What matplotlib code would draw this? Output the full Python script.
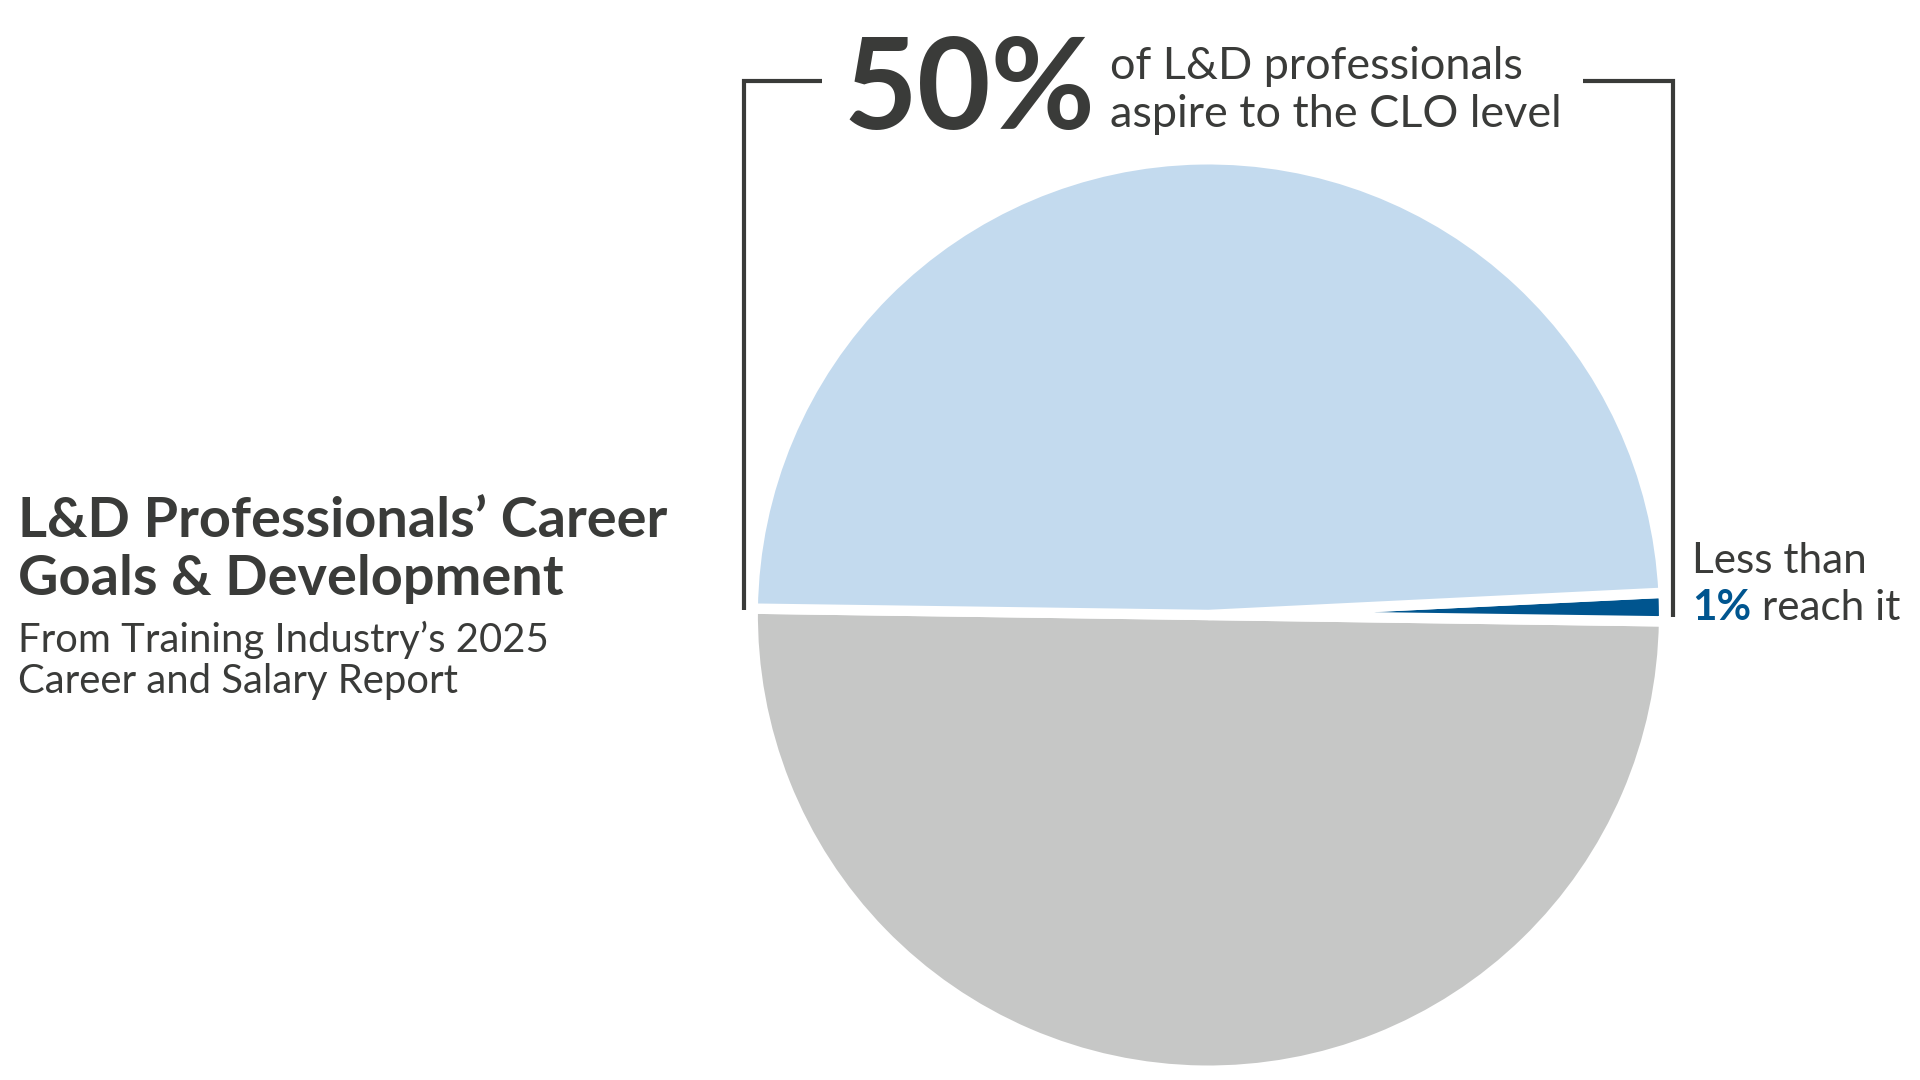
import matplotlib
matplotlib.use("Agg")
import matplotlib.pyplot as plt
from matplotlib.lines import Line2D

# ---------------- data ----------------
categories = ["Other L&D professionals", "Reach the CLO level", "Aspire to the CLO level"]
shares = [50.0, 1.0, 49.0]
slice_colors = ["#c6c7c6", "#00558f", "#c3daee"]

title_lines = ["L&D Professionals\u2019 Career", "Goals & Development"]
subtitle_lines = ["From Training Industry\u2019s 2025", "Career and Salary Report"]
big_value = "50%"
big_lines = ["of L&D professionals", "aspire to the CLO level"]
small_line1 = "Less than"
small_value = "1%"
small_rest = " reach it"

TEXT = "#3a3b39"
BLUE = "#00558f"
FAM = ["Lato", "DejaVu Sans"]

W, H = 1920, 1080
fig = plt.figure(figsize=(W / 100, H / 100), dpi=100)
fig.patch.set_facecolor("white")

# ---------------- pie ----------------
cx, cy, R = 1208.4, 615.0, 455.7
axp = fig.add_axes([(cx - R) / W, (H - cy - R) / H, 2 * R / W, 2 * R / H])
axp.pie(shares, colors=slice_colors, startangle=179.2, counterclock=True,
        wedgeprops=dict(edgecolor="white", linewidth=7.5))
axp.set_xlim(-1, 1)
axp.set_ylim(-1, 1)
axp.set_axis_off()

# ---------------- overlay for text & brackets ----------------
ax = fig.add_axes([0, 0, 1, 1])
ax.set_xlim(0, W)
ax.set_ylim(H, 0)
ax.set_axis_off()
ax.patch.set_alpha(0)

renderer = fig.canvas.get_renderer()


def width_of(t):
    return t.get_window_extent(renderer).width


def fit(t, target):
    t.set_fontsize(t.get_fontsize() * target / width_of(t))


# brackets
lw_br = 3.0
ax.add_line(Line2D([744, 744, 821.7], [610, 80.7, 80.7], color=TEXT, lw=lw_br,
                   solid_joinstyle="miter", solid_capstyle="butt"))
ax.add_line(Line2D([1583, 1672.5, 1672.5], [80.7, 80.7, 617], color=TEXT, lw=lw_br,
                   solid_joinstyle="miter", solid_capstyle="butt"))

# big 50%
t50 = ax.text(843, 129, big_value, family=FAM, weight="bold", color=TEXT,
              fontsize=80, va="baseline", ha="left")
fit(t50, 252)

b2 = ax.text(1110, 127, big_lines[1], family=FAM, color=TEXT, fontsize=28,
             va="baseline", ha="left")
fit(b2, 452)
b1 = ax.text(1110, 79, big_lines[0], family=FAM, color=TEXT,
             fontsize=b2.get_fontsize(), va="baseline", ha="left")

# right label
s1 = ax.text(1692, 573, small_line1, family=FAM, color=TEXT, fontsize=28,
             va="baseline", ha="left")
fit(s1, 182)
fs1 = s1.get_fontsize()
probe = ax.text(0, 0, small_value + small_rest, family=FAM, color=TEXT,
                fontsize=fs1, va="baseline", ha="left")
fit(probe, 208)
fs = min(fs1, probe.get_fontsize())
probe.remove()
s1.set_fontsize(fs)
v1 = ax.text(1692, 619.5, small_value, family=FAM, weight="bold", color=BLUE,
             fontsize=fs, va="baseline", ha="left")
bb = v1.get_window_extent(renderer)
x_next = ax.transData.inverted().transform((bb.x1, bb.y0))[0]
ax.text(x_next, 619.5, small_rest, family=FAM, color=TEXT, fontsize=fs,
        va="baseline", ha="left")

# title
ti1 = ax.text(18, 536.7, title_lines[0], family=FAM, weight="bold", color=TEXT,
              fontsize=34, va="baseline", ha="left")
fit(ti1, 650)
ax.text(18, 595, title_lines[1], family=FAM, weight="bold", color=TEXT,
        fontsize=ti1.get_fontsize(), va="baseline", ha="left")

su1 = ax.text(18, 651.7, subtitle_lines[0], family=FAM, color=TEXT,
              fontsize=26, va="baseline", ha="left")
fit(su1, 530)
ax.text(18, 693.3, subtitle_lines[1], family=FAM, color=TEXT,
        fontsize=su1.get_fontsize(), va="baseline", ha="left")

fig.savefig("out.png", dpi=100, facecolor="white")
